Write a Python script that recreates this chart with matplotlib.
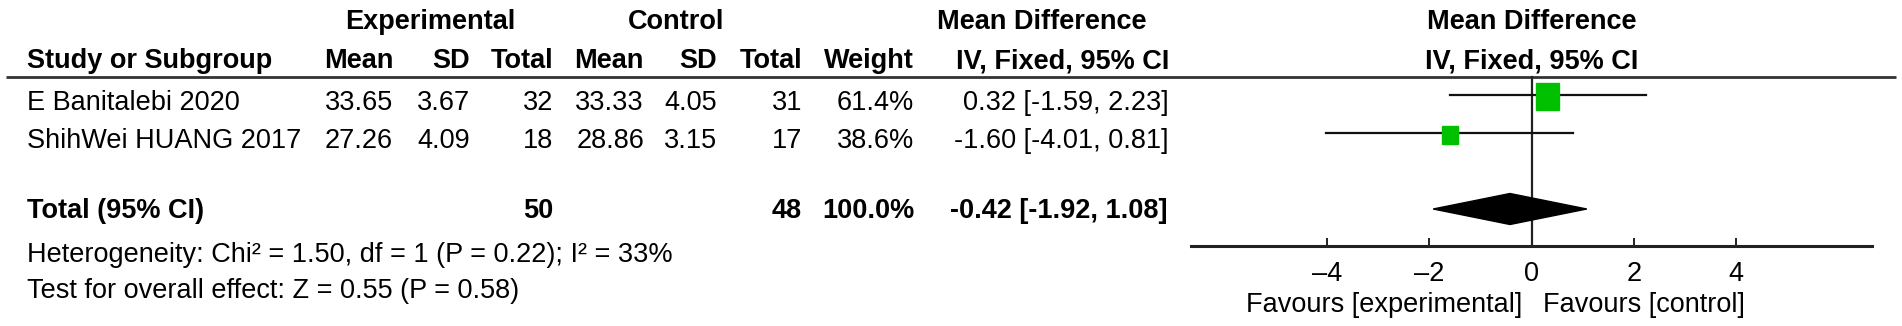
import matplotlib
matplotlib.use('Agg')
import matplotlib.pyplot as plt
from matplotlib.patches import Rectangle, Polygon

# data
studies = ['E Banitalebi 2020', 'ShihWei HUANG 2017']
exp_mean = [33.65, 27.26]
exp_sd = [3.67, 4.09]
exp_n = [32, 18]
ctl_mean = [33.33, 28.86]
ctl_sd = [4.05, 3.15]
ctl_n = [31, 17]
weights = [61.4, 38.6]
md = [0.32, -1.60]
ci_lo = [-1.59, -4.01]
ci_hi = [2.23, 0.81]

total_exp_n = 50
total_ctl_n = 48
total_weight = 100.0
total_md = -0.42
total_lo = -1.92
total_hi = 1.08

heterogeneity = 'Heterogeneity: Chi² = 1.50, df = 1 (P = 0.22); I² = 33%'
overall = 'Test for overall effect: Z = 0.55 (P = 0.58)'

ticks = [-4, -2, 0, 2, 4]
tick_labels = ['\u20134', '\u20132', '0', '2', '4']
favours = ['Favours [experimental]', 'Favours [control]']

plt.rcParams['font.family'] = ['Liberation Sans', 'DejaVu Sans']
FS = 19.5
GREEN = '#00c000'

W, H = 1902, 326
fig = plt.figure(figsize=(W / 100, H / 100), dpi=100)

# text layer in pixel coordinates
ax = fig.add_axes([0, 0, 1, 1])
ax.set_xlim(0, W)
ax.set_ylim(H, 0)
ax.axis('off')

# column right edges (px) and row baselines (px)
col_x = [393, 470, 553, 644, 717, 802, 914, 1169]
row_y = [110, 148.3]
y_head1, y_head2 = 29.3, 68.3
y_total, y_het, y_test = 218.3, 261.7, 298.3


def txt(x, y, s, ha='right', bold=False):
    ax.text(x, y, s, ha=ha, va='baseline', fontsize=FS,
            fontweight='bold' if bold else 'normal', color='black')


# headers
txt(430, y_head1, 'Experimental', ha='center', bold=True)
txt(676.5, y_head1, 'Control', ha='center', bold=True)
txt(1041.5, y_head1, 'Mean Difference', ha='center', bold=True)
txt(26.7, y_head2, 'Study or Subgroup', ha='left', bold=True)
for x, s in zip(col_x, ['Mean', 'SD', 'Total', 'Mean', 'SD', 'Total', 'Weight',
                        'IV, Fixed, 95% CI']):
    txt(x, y_head2, s, bold=True)

ax.plot([6, 1896], [77, 77], color='#333333', lw=2.0, solid_capstyle='butt')

# study rows
for i, name in enumerate(studies):
    y = row_y[i]
    txt(26.7, y, name, ha='left')
    vals = [f'{exp_mean[i]:.2f}', f'{exp_sd[i]:.2f}', str(exp_n[i]),
            f'{ctl_mean[i]:.2f}', f'{ctl_sd[i]:.2f}', str(ctl_n[i]),
            f'{weights[i]:.1f}%',
            f'{md[i]:.2f} [{ci_lo[i]:.2f}, {ci_hi[i]:.2f}]']
    for x, s in zip(col_x, vals):
        txt(x, y, s)

# total row
txt(26.7, y_total, 'Total (95% CI)', ha='left', bold=True)
txt(col_x[2], y_total, str(total_exp_n), bold=True)
txt(col_x[5], y_total, str(total_ctl_n), bold=True)
txt(col_x[6], y_total, f'{total_weight:.1f}%', bold=True)
txt(col_x[7] - 2, y_total, f'{total_md:.2f} [{total_lo:.2f}, {total_hi:.2f}]', bold=True)

txt(26.7, y_het, heterogeneity, ha='left')
txt(26.7, y_test, overall, ha='left')

# forest plot header
txt(1531.5, y_head1, 'Mean Difference', ha='center', bold=True)
txt(1531.5, y_head2, 'IV, Fixed, 95% CI', ha='center', bold=True)
txt(1522, 312, favours[0], ha='right')
txt(1543, 312, favours[1], ha='left')

# forest axes: x in mean difference units, y in px
fa = fig.add_axes([1191 / W, 0, 681 / W, 1])
fa.set_xlim(-6.65, 6.65)
fa.set_ylim(H, 0)
fa.patch.set_visible(False)
for side in ['left', 'right', 'top']:
    fa.spines[side].set_visible(False)
fa.spines['bottom'].set_position(('data', 246))
fa.spines['bottom'].set_linewidth(2.2)
fa.spines['bottom'].set_color('#222222')
fa.set_yticks([])
fa.set_xticks(ticks)
fa.set_xticklabels(tick_labels, fontsize=FS)
fa.tick_params(axis='x', direction='in', length=6, width=1.4, pad=11, color='#222222')

fa.plot([0, 0], [77, 246], color='#222222', lw=1.6)

px_per_unit = 681 / 13.3
for i in range(len(studies)):
    y = row_y[i] - 13.5
    fa.plot([ci_lo[i], ci_hi[i]], [y - 1.5, y - 1.5], color='#111111', lw=1.6)
    side = 4 + 0.31 * weights[i]
    w = side / px_per_unit
    h = side * 1.15
    fa.add_patch(Rectangle((md[i] - w / 2, y - h / 2), w, h, color=GREEN, zorder=3))

yd, hd = 209, 15.5
fa.add_patch(Polygon([(total_lo, yd), (total_md, yd - hd), (total_hi, yd), (total_md, yd + hd)],
                     closed=True, color='black', zorder=3))

fig.savefig('out.png', dpi=100)
